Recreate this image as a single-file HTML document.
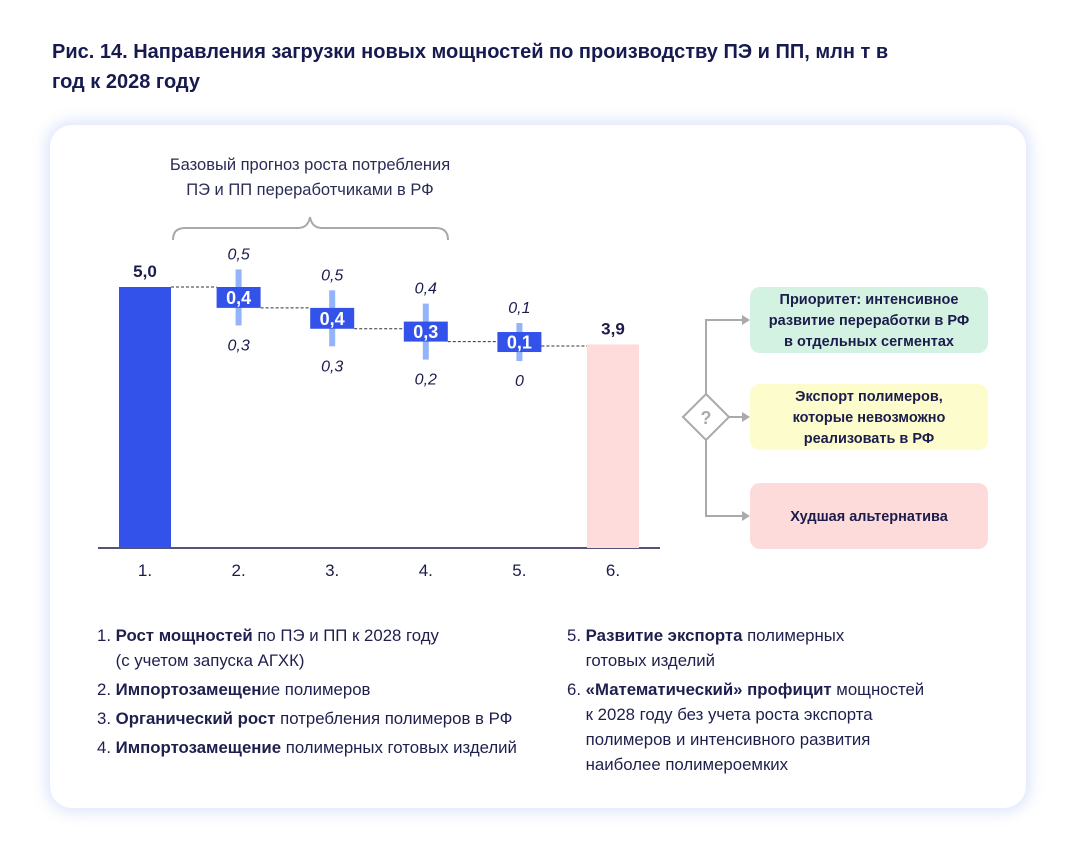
<!DOCTYPE html>
<html><head><meta charset="utf-8"><style>
body{margin:0;width:1075px;height:852px;background:#fff;font-family:"Liberation Sans",sans-serif;color:#1b1c4b;position:relative;overflow:hidden}
.title{position:absolute;left:52px;top:37px;font-size:20px;font-weight:bold;line-height:30px;color:#161a4e;width:900px}
.card{position:absolute;left:50px;top:125px;width:976px;height:683px;border-radius:22px;background:#fff;box-shadow:0 0 14px 4px rgba(120,150,240,0.25)}
svg{position:absolute;left:0;top:0}
.leg{position:absolute;font-size:16.8px;line-height:25px;color:#1e1f4d}
.leg b{font-weight:bold}
</style></head><body>
<div class="title">Рис. 14. Направления загрузки новых мощностей по производству ПЭ и ПП, млн т в<br>год к 2028 году</div>
<div class="card"></div>
<svg id="chart" width="1075" height="852"></svg>
<div class="leg" style="left:97px;top:623px">
<div>1. <b>Рост мощностей</b> по ПЭ и ПП к 2028 году<br>&nbsp;&nbsp;&nbsp;&nbsp;(с учетом запуска АГХК)</div>
<div style="margin-top:4px">2. <b>Импортозамещен</b>ие полимеров</div>
<div style="margin-top:4px">3. <b>Органический рост</b> потребления полимеров в РФ</div>
<div style="margin-top:4px">4. <b>Импортозамещение</b> полимерных готовых изделий</div>
</div>
<div class="leg" style="left:567px;top:623px">
<div>5. <b>Развитие экспорта</b> полимерных<br>&nbsp;&nbsp;&nbsp;&nbsp;готовых изделий</div>
<div style="margin-top:4px">6. <b>«Математический» профицит</b> мощностей<br>&nbsp;&nbsp;&nbsp;&nbsp;к 2028 году без учета роста экспорта<br>&nbsp;&nbsp;&nbsp;&nbsp;полимеров и интенсивного развития<br>&nbsp;&nbsp;&nbsp;&nbsp;наиболее полимероемких</div>
</div>
<script>
const categories=["1.","2.","3.","4.","5.","6."];
const totals=[5.0,null,null,null,null,3.9];
const steps=[null,0.4,0.4,0.3,0.1,null];
const highs=[null,0.5,0.5,0.4,0.1,null];
const lows=[null,0.3,0.3,0.2,0,null];
const NS="http://www.w3.org/2000/svg";
const svg=document.getElementById('chart');
const x0=145,dx=93.6,base=548,ppu=52.2;
const X=i=>x0+i*dx, Y=v=>base-v*ppu;
const fmt=v=>String(v).replace('.',',');
function mk(t,a,p){const e=document.createElementNS(NS,t);for(const k in a)e.setAttribute(k,a[k]);(p||svg).appendChild(e);return e;}
let br=mk('path',{d:'M173,240 Q173,228 185,228 L298,228 Q308,228 310,217 Q312,228 322,228 L436,228 Q448,228 448,240',fill:'none',stroke:'#a9a9a9','stroke-width':2});


const bt=mk('text',{x:310,y:170,'text-anchor':'middle','font-size':16.5,fill:'#2a2c55'});bt.textContent='Базовый прогноз роста потребления';


const bt2=mk('text',{x:310,y:195,'text-anchor':'middle','font-size':16.5,fill:'#2a2c55'});bt2.textContent='ПЭ и ПП переработчиками в РФ';


const ax=mk('line',{x1:98,y1:base,x2:660,y2:base,stroke:'#1b1c4b','stroke-width':1.5});


let cum=totals[0];
categories.forEach((c,i)=>{
  const t=mk('text',{x:X(i),y:576,'text-anchor':'middle','font-size':17,fill:'#1b1c4b'});t.textContent=c;
  
  
  if(totals[i]!=null){
    const r=mk('rect',{x:X(i)-26,y:Y(totals[i]),width:52,height:base-Y(totals[i]),fill:i==0?'#3352ea':'#ffdcdc'});
    
    
    const l=mk('text',{x:X(i),y:Y(totals[i])-10,'text-anchor':'middle','font-size':17,'font-weight':'bold',fill:'#1b1c4b'});l.textContent=fmt(totals[i].toFixed(1));
    
    
    if(i==0){const d=mk('line',{x1:X(i)+26,y1:Y(cum),x2:X(1)-22,y2:Y(cum),stroke:'#333','stroke-dasharray':'3,2','stroke-width':1});}
    return;
  }
  const v=steps[i];
  let top=Y(cum),bot=Y(cum-v);
  if(bot-top<20){const m=(top+bot)/2-5;top=m-10;bot=m+10;}
  const mid=(top+bot)/2;
  const len=20+(highs[i]-lows[i])*180;
  const eb=mk('rect',{x:X(i)-3,y:mid-len/2,width:6,height:len,fill:'#93b4fb'});
  
  
  const r=mk('rect',{x:X(i)-22,y:top,width:44,height:bot-top,fill:'#3352ea'});
  
  
  const tl=mk('text',{x:X(i),y:mid+6.5,'text-anchor':'middle','font-size':18,'font-weight':'bold',fill:'#fff'});tl.textContent=fmt(v);
  
  
  const hl=mk('text',{x:X(i),y:mid-len/2-10,'text-anchor':'middle','font-size':16,'font-style':'italic',fill:'#1b1c4b'});hl.textContent=fmt(highs[i]);
  
  
  const ll=mk('text',{x:X(i),y:mid+len/2+25,'text-anchor':'middle','font-size':16,'font-style':'italic',fill:'#1b1c4b'});ll.textContent=fmt(lows[i]);
  
  
  cum=cum-v;
  const ny=(i==4)?mid+4:bot;
  const d=mk('line',{x1:X(i)+22,y1:ny,x2:X(i+1)-(i==4?26:22),y2:ny,stroke:'#333','stroke-dasharray':'3,2','stroke-width':1});
  
  
});
const g='#aaaaaa';
mk('path',{d:'M706,394 V320 H744 M729,417 H744 M706,440 V516 H744',fill:'none',stroke:g,'stroke-width':2});
[320,417,516].forEach(y=>{const a=mk('path',{d:`M742,${y-5} L750,${y} L742,${y+5}Z`,fill:g});});
const dm=mk('path',{d:'M706,394 L729,417 L706,440 L683,417Z',fill:'#fff',stroke:g,'stroke-width':2});


const q=mk('text',{x:706,y:424,'text-anchor':'middle','font-size':18,'font-weight':'bold',fill:g});q.textContent='?';


const boxes=[[287,'#d3f2e2',['Приоритет: интенсивное','развитие переработки в РФ','в отдельных сегментах'],'priority-box'],[384,'#fdfccc',['Экспорт полимеров,','которые невозможно','реализовать в РФ'],'export-box'],[483,'#fedbdb',['Худшая альтернатива'],'worst-box']];
boxes.forEach(b=>{
  const r=mk('rect',{x:750,y:b[0],width:238,height:66,rx:10,fill:b[1]});
  
  
  const n=b[2].length;
  b[2].forEach((s,k)=>{const t=mk('text',{x:869,y:b[0]+33+5+(k-(n-1)/2)*21,'text-anchor':'middle','font-size':14.5,'font-weight':'bold',fill:'#1b1c4b'});t.textContent=s;
    
    });
});
</script>
</body></html>
